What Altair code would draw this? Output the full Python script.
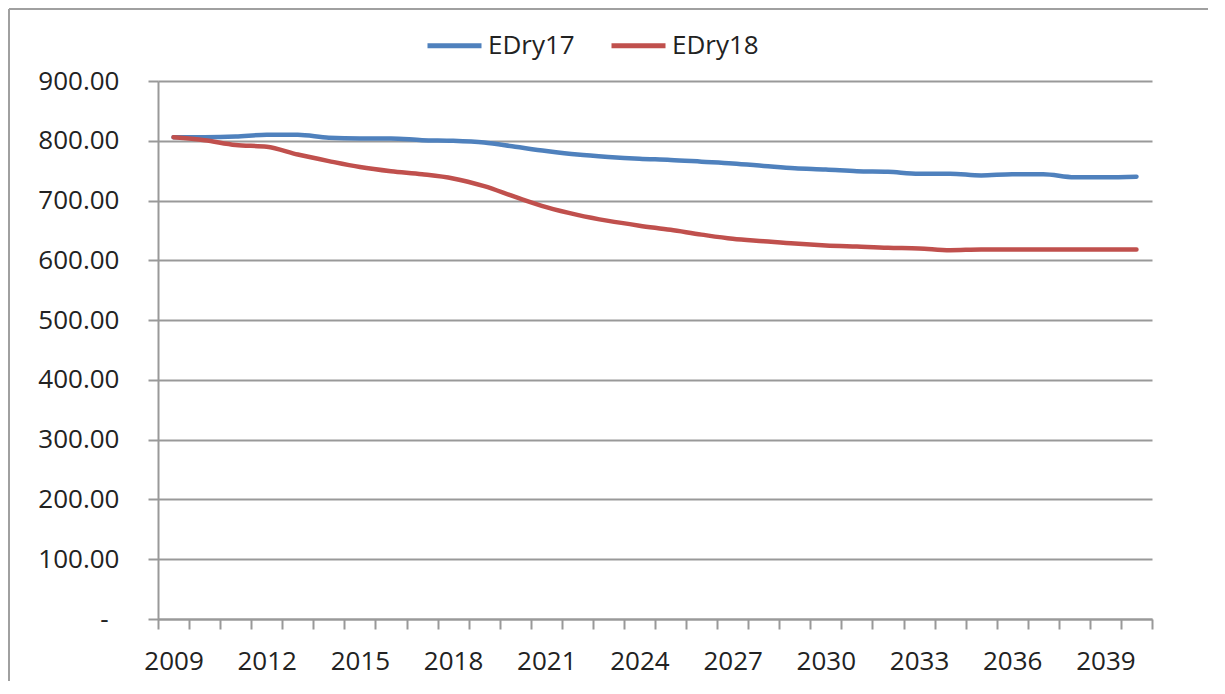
import altair as alt
import pandas as pd

years = list(range(2009, 2041))
edry17 = [806, 806, 807, 810, 810, 805, 804, 804, 801, 800, 797, 790, 783, 777, 773, 770,
          768, 765, 762, 758, 754, 752, 749, 748, 745, 745, 742, 744, 744, 739, 739, 740]
edry18 = [806, 801, 793, 790, 777, 766, 756, 749, 744, 737, 724, 706, 689, 676, 666, 658,
          651, 643, 636, 632, 628, 625, 623, 621, 620, 617, 618, 618, 618, 618, 618, 618]
series_names = ["EDry17", "EDry18"]
series_colors = ["#4F81BD", "#C0504D"]
y_ticks = [0, 100, 200, 300, 400, 500, 600, 700, 800, 900]

rows = []
for name, vals in zip(series_names, [edry17, edry18]):
    for yr, v in zip(years, vals):
        rows.append({"year": str(yr), "series": name, "value": v})
df = pd.DataFrame(rows)

FONT = "Open Sans"
TXT = "#222222"
GRID = "#999999"
W, H = 994, 538

lines = alt.Chart(df).mark_line(interpolate="monotone", strokeWidth=4.5, strokeCap="round").encode(
    x=alt.X(
        "year:O",
        title=None,
        bandPosition=0.5,
        scale=alt.Scale(type="band", paddingInner=0, paddingOuter=0),
        axis=alt.Axis(
            labelAngle=0,
            tickBand="extent",
            tickSize=10,
            tickWidth=2,
            tickColor=GRID,
            domainColor=GRID,
            domainWidth=2,
            grid=False,
            labelOverlap=False,
            labelPadding=19,
            labelFont=FONT,
            labelFontSize=26,
            labelColor=TXT,
            labelExpr="(toNumber(datum.value) - 2009) % 3 == 0 ? datum.value : ''",
        ),
    ),
    y=alt.Y(
        "value:Q",
        title=None,
        scale=alt.Scale(domain=[0, 900], nice=False),
        axis=alt.Axis(
            values=y_ticks,
            tickSize=10,
            tickWidth=2,
            tickColor=GRID,
            domainColor=GRID,
            domainWidth=2,
            grid=True,
            gridColor=GRID,
            gridWidth=2,
            labelPadding={"condition": {"test": "datum.value === 0", "value": 40}, "value": 29},
            labelFont=FONT,
            labelFontSize=26,
            labelColor=TXT,
            labelExpr="datum.value == 0 ? '-' : format(datum.value, '.2f')",
        ),
    ),
    color=alt.Color(
        "series:N",
        title=None,
        scale=alt.Scale(domain=series_names, range=series_colors),
        legend=alt.Legend(
            orient="none",
            direction="horizontal",
            legendX=267,
            legendY=-65,
            symbolType="stroke",
            symbolSize=2916,
            symbolStrokeWidth=5,
            labelFont=FONT,
            labelFontSize=26,
            labelColor=TXT,
            labelOffset=4,
            columnPadding=26,
        ),
    ),
)

border_data = alt.Data(values=[{"k": 0}])
left_rule = alt.Chart(border_data).mark_rule(color="#a0a0a0", strokeWidth=2).encode(
    x=alt.value(-149), y=alt.value(-72), y2=alt.value(600)
)
top_rule = alt.Chart(border_data).mark_rule(color="#a0a0a0", strokeWidth=2).encode(
    x=alt.value(-149), x2=alt.value(1050), y=alt.value(-72)
)

chart = alt.layer(left_rule, top_rule, lines).properties(
    width=W, height=H, padding=0
).configure_view(strokeWidth=0)

chart.save("out.html", embed_options={"renderer": "svg", "actions": False})
